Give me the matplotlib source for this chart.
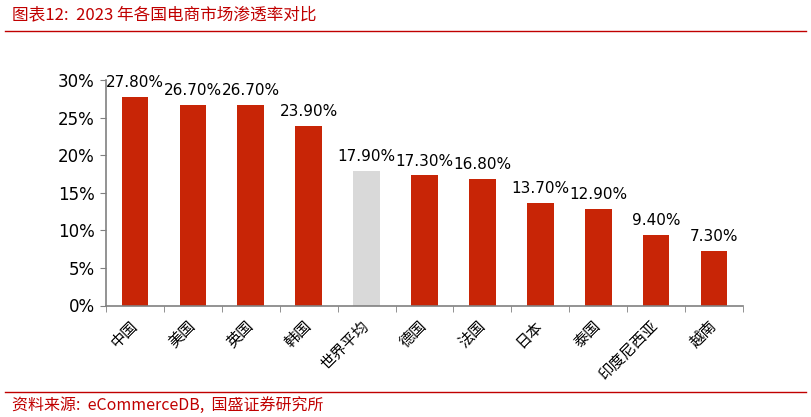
import matplotlib
matplotlib.use("Agg")
import matplotlib.pyplot as plt
from matplotlib.lines import Line2D
from matplotlib.ticker import FuncFormatter

plt.rcParams['font.family'] = ['DejaVu Sans', 'Noto Sans CJK SC']

# data
countries = ['中国', '美国', '英国', '韩国', '世界平均', '德国', '法国', '日本', '泰国', '印度尼西亚', '越南']
penetration = [27.8, 26.7, 26.7, 23.9, 17.9, 17.3, 16.8, 13.7, 12.9, 9.4, 7.3]
highlight = '世界平均'

RED = '#C82506'
GREY = '#D9D9D9'
DARK_RED = '#C00000'

fig = plt.figure(figsize=(8.11, 4.17), dpi=100)
ax = fig.add_axes([106 / 811, 1 - 305.5 / 417, 637 / 811, 225.5 / 417])

colors = [GREY if c == highlight else RED for c in countries]
x = list(range(len(countries)))
ax.bar(x, penetration, width=0.46, color=colors, zorder=2)

# value labels above the bars
for xi, v in zip(x, penetration):
    ax.annotate(f'{v:.2f}%', (xi, v), xytext=(0, 5), textcoords='offset points',
                ha='center', va='bottom', fontsize=11, color='black')

ax.set_xlim(-0.5, len(countries) - 0.5)
ax.set_ylim(0, 30)
ax.set_yticks([0, 5, 10, 15, 20, 25, 30])
ax.yaxis.set_major_formatter(FuncFormatter(lambda v, p: f'{v:.0f}%'))
ax.tick_params(axis='y', labelsize=12, length=4, color='#808080', direction='out', pad=4)

# category labels centred, ticks between categories
ax.set_xticks(x)
ax.set_xticklabels(countries, rotation=45, ha='right', va='center', rotation_mode='anchor',
                   fontsize=11, family=['Noto Sans CJK SC'])
ax.tick_params(axis='x', length=0, pad=13)
ax.set_xticks([i - 0.5 for i in range(len(countries) + 1)], minor=True)
ax.tick_params(axis='x', which='minor', length=4, color='#808080', direction='out')

for side in ['top', 'right']:
    ax.spines[side].set_visible(False)
for side in ['left', 'bottom']:
    ax.spines[side].set_color('#808080')
    ax.spines[side].set_linewidth(1.2)

# header / footer
fig.text(12 / 811, 1 - 15 / 417, '图表12:  2023 年各国电商市场渗透率对比', fontsize=12,
         color=DARK_RED, style='italic', va='center', ha='left',
         family=['Noto Sans CJK SC', 'DejaVu Sans'])
fig.add_artist(Line2D([5 / 811, 806 / 811], [1 - 31 / 417, 1 - 31 / 417],
                      color=DARK_RED, lw=1.0, transform=fig.transFigure))
fig.add_artist(Line2D([5 / 811, 806 / 811], [1 - 392 / 417, 1 - 392 / 417],
                      color=DARK_RED, lw=1.0, transform=fig.transFigure))
fig.text(12 / 811, 1 - 405 / 417, '资料来源:  eCommerceDB,  国盛证券研究所', fontsize=11.5,
         color=DARK_RED, style='italic', va='center', ha='left',
         family=['Noto Sans CJK SC', 'DejaVu Sans'])

fig.savefig('out.png', dpi=100)
